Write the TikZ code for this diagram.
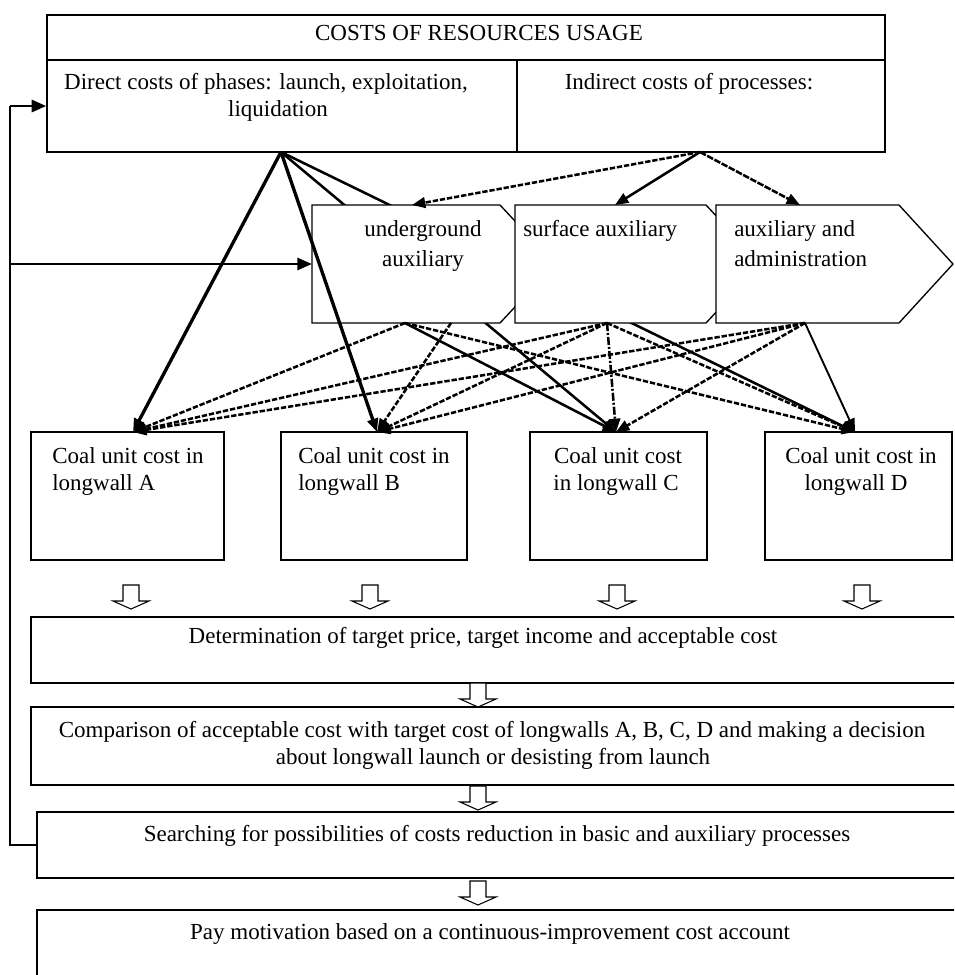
\documentclass[tikz,border=0pt]{standalone}
\usepackage{fontspec}
\setmainfont{Liberation Serif}
\usetikzlibrary{arrows.meta}
\begin{document}
\begin{tikzpicture}[x=0.75pt,y=-0.75pt,
  every node/.style={font=\fontsize{17.25}{20.25}\selectfont, inner sep=0pt},
  cell/.style 2 args={draw, line width=1pt, minimum width=#1*0.75pt, minimum height=#2*0.75pt, inner sep=0pt},
  chev/.style={draw, line width=1pt, fill=white},
  tip/.style={-{Triangle[length=10pt,width=8pt]}},
  link/.style={tip, line width=1.9pt},
  heavy/.style={tip, line width=2.5pt},
  dlink/.style={tip, line width=1.9pt, dash pattern=on 4pt off 1.4pt},
  feed/.style={-{Triangle[length=11pt,width=9pt]}, line width=2.2pt},
  loopline/.style={line width=1.3pt},
  hollowdown/.pic={\draw[line width=0.8pt, fill=white]
      (-8,0) -- (-8,16) -- (-18,16) -- (0,24) -- (18,16) -- (8,16) -- (8,0) -- cycle;}
]
\clip (0,0) rectangle (954,975);
\fill[white] (0,0) rectangle (954,975);

% ---------- header table ----------
\node[cell={838}{45}] (title) at (466,37.5) {};
\node[cell={470}{92}] (direct) at (282,106) {};
\node[cell={368}{92}] (indirect) at (701,106) {};
\node[anchor=base] (titletxt) at (479,40) {COSTS OF RESOURCES USAGE};
\node[anchor=base] (dirtxt1) at (266,89) {Direct costs of phases: launch, exploitation,};
\node[anchor=base] (dirtxt2) at (278,116) {liquidation};
\node[anchor=base] (indtxt) at (689,89) {Indirect costs of processes:};

% ---------- longwall boxes ----------
\node[cell={193}{128}] (A) at (127.5,496) {};
\node[cell={186}{128}] (B) at (374,496) {};
\node[cell={177}{128}] (C) at (618.5,496) {};
\node[cell={187}{128}] (D) at (858.5,496) {};
\node[anchor=base west] (Atxt1) at (52,463) {Coal unit cost in};
\node[anchor=base west] (Atxt2) at (52,490) {longwall A};
\node[anchor=base west] (Btxt1) at (298,463) {Coal unit cost in};
\node[anchor=base west] (Btxt2) at (298,490) {longwall B};
\node[anchor=base] (Ctxt1) at (618,463) {Coal unit cost};
\node[anchor=base] (Ctxt2) at (616,490) {in longwall C};
\node[anchor=base] (Dtxt1) at (861,463) {Coal unit cost in};
\node[anchor=base] (Dtxt2) at (856,490) {longwall D};

% ---------- connection points ----------
\coordinate (D0) at (281,152);
\coordinate (I0) at (700,152);
\coordinate (ugTop) at (412,205);
\coordinate (sfTop) at (615,205);
\coordinate (adTop) at (800,205);
\coordinate (ugW) at (312,264);
\coordinate (U) at (405,323);
\coordinate (U2) at (451,323);
\coordinate (S) at (607,323);
\coordinate (Ad) at (805,323);
\coordinate (tA) at (133,432);
\coordinate (tB) at (377,432);
\coordinate (tC) at (616,432);
\coordinate (tD) at (855,432);

% direct costs running behind the process shapes
\draw[link] (D0) -- (tC);
\draw[link] (D0) -- (tD);

% ---------- indirect process shapes ----------
\draw[chev] (312,205) -- (500,205) -- (555,264) -- (500,323) -- (312,323) -- cycle;
\draw[chev] (515,205) -- (706,205) -- (761,264) -- (706,323) -- (515,323) -- cycle;
\draw[chev] (716,205) -- (899,205) -- (953,264) -- (899,323) -- (716,323) -- cycle;
\node[anchor=base] (ugtxt1) at (423,236) {underground};
\node[anchor=base] (ugtxt2) at (423,266) {auxiliary};
\node[anchor=base west] (sftxt) at (523,236) {surface auxiliary};
\node[anchor=base west] (adtxt1) at (734,236) {auxiliary and};
\node[anchor=base west] (adtxt2) at (734,266) {administration};

% ---------- direct costs to longwalls ----------
\draw[heavy] (D0) -- (tA);
\draw[heavy] (D0) -- (tB);

% ---------- indirect costs to processes ----------
\draw[dlink] (I0) -- (ugTop);
\draw[link] (I0) -- (sfTop);
\draw[dlink, dash pattern=on 5pt off 1.1pt] (I0) -- (adTop);

% ---------- processes to longwalls ----------
\draw[dlink] (U) -- (tA);
\draw[dlink] (U2) -- (tB);
\draw[link] (U) -- (tC);
\draw[dlink] (U) -- (tD);
\draw[dlink] (S) -- (tA);
\draw[dlink] (S) -- (tB);
\draw[dlink, dash pattern=on 6pt off 1.5pt on 1.5pt off 1.5pt] (S) -- (tC);
\draw[dlink] (S) -- (tD);
\draw[dlink] (Ad) -- (tA);
\draw[dlink] (Ad) -- (tB);
\draw[dlink] (Ad) -- (tC);
\draw[link, line width=1.4pt] (Ad) -- (tD);

% ---------- decision chain ----------
\node[cell={929}{66}] (det) at (495.5,650) {};
\node[cell={929}{78}] (comp) at (495.5,746) {};
\node[cell={923}{66}] (search) at (498.5,845) {};
\node[cell={923}{90}] (pay) at (498.5,955) {};
\node[anchor=base] (dettxt) at (483,643) {Determination of target price, target income and acceptable cost};
\node[anchor=base] (comptxt1) at (492,737) {Comparison of acceptable cost with target cost of longwalls A, B, C, D and making a decision};
\node[anchor=base] (comptxt2) at (493,764) {about longwall launch or desisting from launch};
\node[anchor=base] (searchtxt) at (497,841) {Searching for possibilities of costs reduction in basic and auxiliary processes};
\node[anchor=base] (paytxt) at (490,939) {Pay motivation based on a continuous-improvement cost account};

\pic at (131,585) {hollowdown};
\pic at (370,585) {hollowdown};
\pic at (617,585) {hollowdown};
\pic at (862,585) {hollowdown};
\pic at (478,683) {hollowdown};
\pic at (478,786) {hollowdown};
\pic at (478,881) {hollowdown};

% ---------- feedback loop ----------
\coordinate (loopB) at (10,845);
\coordinate (loopT) at (10,106);
\coordinate (loopM) at (10,264);
\draw[loopline] (search.west) -- (loopB) -- (loopT);
\draw[feed] (loopT) -- (direct.west);
\draw[feed] (loopM) -- (ugW);
\end{tikzpicture}
\end{document}
